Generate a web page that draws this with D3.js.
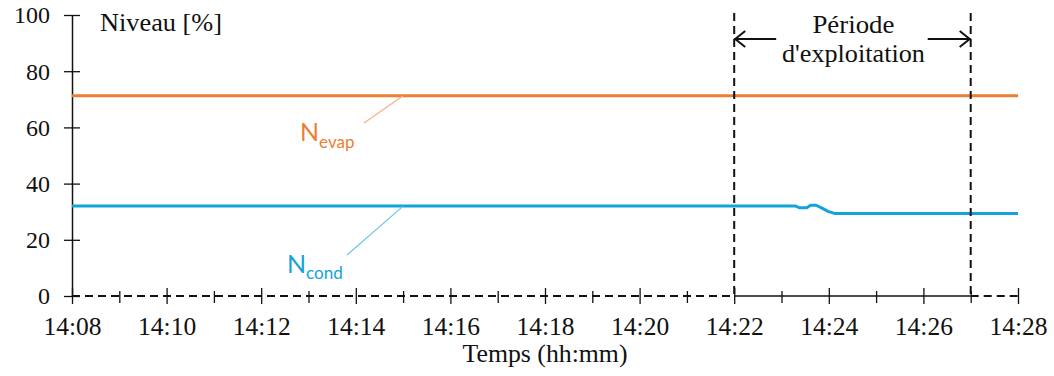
<!DOCTYPE html>
<html><head><meta charset="utf-8">
<script src="https://cdn.jsdelivr.net/npm/d3@7"></script>
<style>
body{margin:0;background:#fff;}
svg{display:block;}
</style></head><body>
<svg id="c" width="1054" height="376"></svg>
<script>
// ---- data ----
const evapTimes = ["14:08:00", "14:28:00"];
const evapValues = [71.3, 71.3];
const condTimes = ["14:08:00","14:23:18","14:23:23","14:23:32","14:23:37","14:23:44","14:23:52","14:23:59","14:24:07","14:28:00"];
const condValues = [32.0, 32.0, 31.4, 31.4, 32.3, 32.3, 31.2, 30.1, 29.4, 29.4];
const periodTimes = ["14:22:00", "14:27:00"];
const yTicks = [0, 20, 40, 60, 80, 100];
const xMajorTicks = ["14:08","14:10","14:12","14:14","14:16","14:18","14:20","14:22","14:24","14:26","14:28"];
const xMinorTicks = ["14:09","14:11","14:13","14:15","14:17","14:19","14:21","14:23","14:25","14:27"];
const yAxisTitle = "Niveau [%]";
const xAxisTitle = "Temps (hh:mm)";
const periodLabel = ["Période", "d'exploitation"];

const SERIF = '"Liberation Serif", "Times New Roman", serif';
const SANS = 'Lato, "Open Sans", sans-serif';
const pS = d3.timeParse("%H:%M:%S"), pM = d3.timeParse("%H:%M");
const svg = d3.select("#c");
const L = 72, R = 1018, T = 15, B = 296;
const x = d3.scaleTime().domain([pM("14:08"), pM("14:28")]).range([L, R]);
const y = d3.scaleLinear().domain([0, 100]).range([B, T]);

const orange = "#ED7D31", blue = "#12A3D8";

// y axis
const ya = svg.append("g").attr("transform", `translate(${L},0)`)
  .call(d3.axisLeft(y).tickValues(yTicks).tickSize(8).tickSizeOuter(0).tickPadding(14));
ya.select(".domain").attr("stroke", "#111").attr("stroke-width", 1.5);
ya.selectAll(".tick line").attr("x1", 8).attr("stroke", "#111").attr("stroke-width", 1.3);
ya.selectAll(".tick text").style("font-family", SERIF).style("font-size", "24px").attr("dy", "0.33em").attr("fill", "#111");

// x axis
const p0 = pS(periodTimes[0]), p1 = pS(periodTimes[1]);
const xa = svg.append("g").attr("transform", `translate(0,${B})`)
  .call(d3.axisBottom(x).tickValues(xMajorTicks.map(pM)).tickFormat(d3.timeFormat("%H:%M")).tickSize(8).tickSizeOuter(0).tickPadding(13));
xa.select(".domain").remove();
xa.selectAll(".tick line").attr("y1", -8).attr("stroke", "#111").attr("stroke-width", 1.3);
xa.selectAll(".tick text").style("font-family", SERIF).style("font-size", "25.5px").attr("fill", "#111");
const xm = svg.append("g").attr("transform", `translate(0,${B})`)
  .call(d3.axisBottom(x).tickValues(xMinorTicks.map(pM)).tickFormat("").tickSize(7).tickSizeOuter(0));
xm.select(".domain").remove();
xm.selectAll(".tick line").attr("y1", -5).attr("stroke", "#111").attr("stroke-width", 1.3);

svg.append("line").attr("x1", x(p0)).attr("x2", x(p1)).attr("y1", y(0)).attr("y2", y(0))
  .attr("stroke", "#111").attr("stroke-width", 1.3);
[[pM("14:08"), p0], [p1, pM("14:28")]].forEach(([a, b]) => {
  svg.append("line").attr("x1", x(a)).attr("x2", x(b)).attr("y1", y(0)).attr("y2", y(0))
    .attr("stroke", "#111").attr("stroke-width", 2).attr("stroke-dasharray", "8,5");
});

// series
const line = d3.line().x(d => x(d[0])).y(d => y(d[1]));
svg.append("path").datum(evapTimes.map((t, i) => [pS(t), evapValues[i]]))
  .attr("d", line).attr("fill", "none").attr("stroke", orange).attr("stroke-width", 3);
svg.append("path").datum(condTimes.map((t, i) => [pS(t), condValues[i]]))
  .attr("d", line).attr("fill", "none").attr("stroke", blue).attr("stroke-width", 3).attr("stroke-linejoin", "round");

// period dashed verticals
[p0, p1].forEach(t => {
  svg.append("line").attr("x1", x(t)).attr("x2", x(t)).attr("y1", y(100) - 2).attr("y2", y(0))
    .attr("stroke", "#111").attr("stroke-width", 2).attr("stroke-dasharray", "8,5");
});

// arrows
const ay = 39;
const mL = x(p0), mR = x(p1);
svg.append("line").attr("x1", mL).attr("x2", mL + 42).attr("y1", ay).attr("y2", ay).attr("stroke", "#111").attr("stroke-width", 2);
svg.append("path").attr("d", `M${mL + 11},${ay - 8} L${mL + 1},${ay} L${mL + 11},${ay + 8}`).attr("fill", "none").attr("stroke", "#111").attr("stroke-width", 2);
svg.append("line").attr("x1", mR - 43).attr("x2", mR).attr("y1", ay).attr("y2", ay).attr("stroke", "#111").attr("stroke-width", 2);
svg.append("path").attr("d", `M${mR - 11},${ay - 8} L${mR - 1},${ay} L${mR - 11},${ay + 8}`).attr("fill", "none").attr("stroke", "#111").attr("stroke-width", 2);

// texts
const txt = (xx, yy, s, anchor, len) => {
  const t = svg.append("text").attr("x", xx).attr("y", yy).attr("text-anchor", anchor || "start")
    .attr("fill", "#111").style("font-family", SERIF).style("font-size", "24.5px").text(s);
  if (len) t.attr("textLength", len).attr("lengthAdjust", "spacingAndGlyphs");
  return t;
};
const mid = (mL + mR) / 2 + 1;
txt(mid, 33, periodLabel[0], "middle", 82);
txt(mid, 62, periodLabel[1], "middle", 143);
txt(100, 31, yAxisTitle, "start", 122);
txt(545, 362, xAxisTitle, "middle", 165);

// series labels with leader lines
const lx = x(pM("14:15"));
svg.append("line").attr("x1", 364).attr("y1", 123).attr("x2", lx).attr("y2", y(evapValues[0]))
  .attr("stroke", "#F4B183").attr("stroke-width", 1.2);
svg.append("line").attr("x1", 347).attr("y1", 255).attr("x2", lx).attr("y2", y(condValues[0]))
  .attr("stroke", "#6CC6EA").attr("stroke-width", 1.2);
const lab1 = svg.append("text").attr("x", 300).attr("y", 141).style("font-family", SANS).attr("fill", orange);
lab1.append("tspan").style("font-size", "25px").attr("fill", orange).text("N");
lab1.append("tspan").style("font-size", "17px").attr("dy", 7).attr("fill", orange).text("evap");
const lab2 = svg.append("text").attr("x", 287).attr("y", 273).style("font-family", SANS).attr("fill", blue);
lab2.append("tspan").style("font-size", "25px").attr("fill", blue).text("N");
lab2.append("tspan").style("font-size", "17px").attr("dy", 6).attr("fill", blue).text("cond");
</script></body></html>
